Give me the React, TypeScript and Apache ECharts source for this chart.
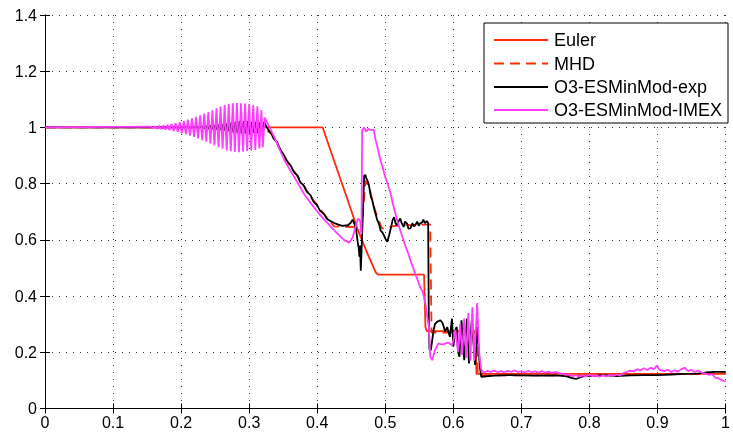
import React, { useEffect, useRef } from "react";
import * as echarts from "echarts";

const seriesNames = ["Euler", "MHD", "O3-ESMinMod-exp", "O3-ESMinMod-IMEX"];

const eulerData: number[][] = [
  [0, 1], [0.408, 1], [0.43, 0.845], [0.445, 0.74], [0.459, 0.64], [0.474, 0.55],
  [0.486, 0.484], [0.49, 0.476], [0.557, 0.476], [0.559, 0.29], [0.561, 0.275],
  [0.632, 0.275], [0.634, 0.123], [1, 0.123],
];

const mhdData: number[][] = [
  [0, 1], [0.322, 1], [0.333, 0.975], [0.352, 0.895], [0.372, 0.822], [0.391, 0.752],
  [0.411, 0.688], [0.42, 0.662], [0.425, 0.648], [0.462, 0.645], [0.465, 0.63],
  [0.468, 0.72], [0.471, 0.81], [0.476, 0.79], [0.485, 0.705], [0.495, 0.64],
  [0.503, 0.645], [0.52, 0.652], [0.566, 0.655], [0.568, 0.27], [0.634, 0.27],
  [0.636, 0.118], [0.8, 0.118], [1, 0.125],
];

const expData: number[][] = [
  [0, 1], [0.22, 1], [0.232, 1.003], [0.235, 0.997], [0.238, 1.005], [0.241, 0.995],
  [0.244, 1.006], [0.247, 0.994], [0.25, 1.008], [0.253, 0.992], [0.256, 1.01], [0.259, 0.99],
  [0.262, 1.012], [0.265, 0.988], [0.268, 1.015], [0.271, 0.985], [0.274, 1.018], [0.277, 0.982],
  [0.28, 1.02], [0.283, 0.98], [0.286, 1.022], [0.289, 0.978], [0.292, 1.022], [0.295, 0.978],
  [0.298, 1.022], [0.301, 0.978], [0.304, 1.02], [0.307, 0.98], [0.31, 1.02], [0.313, 0.98],
  [0.316, 1.018], [0.319, 0.985], [0.322, 1.02],
  [0.326, 1.0], [0.33, 0.985], [0.333, 0.978], [0.336, 0.96], [0.338, 0.955], [0.341, 0.948],
  [0.343, 0.935], [0.347, 0.915], [0.35, 0.906], [0.352, 0.898], [0.355, 0.882], [0.357, 0.875],
  [0.36, 0.868], [0.362, 0.86], [0.365, 0.845], [0.367, 0.838], [0.37, 0.832], [0.372, 0.825],
  [0.374, 0.81], [0.376, 0.802], [0.379, 0.797], [0.381, 0.79], [0.384, 0.774], [0.386, 0.768],
  [0.389, 0.762], [0.391, 0.755], [0.394, 0.738], [0.396, 0.732], [0.399, 0.726], [0.401, 0.718],
  [0.404, 0.704], [0.406, 0.7], [0.409, 0.694], [0.411, 0.688], [0.414, 0.676], [0.416, 0.672],
  [0.42, 0.666], [0.425, 0.66], [0.43, 0.655], [0.437, 0.65], [0.445, 0.652],
  [0.449, 0.66], [0.452, 0.672], [0.455, 0.655], [0.457, 0.64], [0.459, 0.6], [0.461, 0.57],
  [0.462, 0.54], [0.463, 0.58], [0.464, 0.49], [0.466, 0.62], [0.468, 0.76], [0.469, 0.829],
  [0.471, 0.83], [0.472, 0.82], [0.474, 0.81], [0.476, 0.794], [0.479, 0.752], [0.481, 0.74],
  [0.483, 0.717], [0.486, 0.69], [0.488, 0.672], [0.491, 0.655], [0.493, 0.634], [0.496, 0.626],
  [0.498, 0.616], [0.501, 0.6], [0.503, 0.593], [0.506, 0.62], [0.508, 0.64], [0.511, 0.672],
  [0.513, 0.681], [0.515, 0.66], [0.517, 0.652], [0.52, 0.668], [0.522, 0.676], [0.524, 0.66],
  [0.527, 0.646], [0.529, 0.665], [0.532, 0.658], [0.534, 0.64], [0.537, 0.641], [0.54, 0.66],
  [0.542, 0.648], [0.544, 0.652], [0.547, 0.665], [0.549, 0.65], [0.551, 0.658], [0.554, 0.662],
  [0.556, 0.672], [0.558, 0.66], [0.561, 0.667], [0.563, 0.66], [0.564, 0.3], [0.565, 0.21],
  [0.567, 0.208], [0.571, 0.279], [0.573, 0.3], [0.576, 0.308], [0.581, 0.314], [0.584, 0.305],
  [0.586, 0.29], [0.588, 0.273], [0.591, 0.29], [0.593, 0.27], [0.595, 0.255], [0.598, 0.32],
  [0.6, 0.22], [0.603, 0.28], [0.605, 0.29], [0.607, 0.2], [0.609, 0.184], [0.612, 0.314],
  [0.616, 0.172], [0.62, 0.32], [0.623, 0.16], [0.627, 0.314], [0.632, 0.155], [0.635, 0.29],
  [0.639, 0.148], [0.641, 0.113], [0.66, 0.117], [0.68, 0.119], [0.7, 0.118], [0.72, 0.117],
  [0.75, 0.118], [0.765, 0.115], [0.775, 0.108], [0.78, 0.105], [0.79, 0.114], [0.81, 0.117],
  [0.82, 0.119], [0.84, 0.115], [0.86, 0.118], [0.88, 0.119], [0.9, 0.119], [0.92, 0.121],
  [0.94, 0.123], [0.96, 0.124], [0.97, 0.128], [0.985, 0.13], [1, 0.13],
];

const imexData: number[][] = [
  [0, 1], [0.156, 1.003], [0.159, 0.997], [0.162, 1.004], [0.165, 0.995], [0.168, 1.006],
  [0.171, 0.994], [0.174, 1.007], [0.177, 0.992], [0.18, 1.009], [0.183, 0.99], [0.186, 1.012],
  [0.189, 0.987], [0.192, 1.015], [0.195, 0.984], [0.198, 1.019], [0.201, 0.98], [0.204, 1.023],
  [0.207, 0.976], [0.21, 1.028], [0.213, 0.971], [0.216, 1.032], [0.219, 0.966], [0.222, 1.038],
  [0.225, 0.961], [0.228, 1.043], [0.231, 0.955], [0.234, 1.049], [0.237, 0.949], [0.24, 1.055],
  [0.243, 0.943], [0.246, 1.061], [0.249, 0.937], [0.252, 1.068], [0.255, 0.93], [0.258, 1.074],
  [0.261, 0.924], [0.264, 1.08], [0.267, 0.918], [0.27, 1.084], [0.273, 0.915], [0.276, 1.086],
  [0.279, 0.913], [0.282, 1.087], [0.285, 0.912], [0.288, 1.086], [0.291, 0.914], [0.294, 1.085],
  [0.297, 0.916], [0.3, 1.083], [0.303, 0.918], [0.306, 1.08], [0.309, 0.921], [0.312, 1.075],
  [0.315, 0.925], [0.318, 1.062], [0.32, 0.93], [0.323, 1.035],
  [0.326, 1.02], [0.33, 1.0], [0.338, 0.96], [0.345, 0.92], [0.352, 0.883], [0.362, 0.84],
  [0.372, 0.8], [0.381, 0.762], [0.391, 0.729], [0.401, 0.698], [0.411, 0.67], [0.418, 0.652],
  [0.425, 0.634], [0.433, 0.614], [0.44, 0.598], [0.447, 0.59], [0.452, 0.608], [0.457, 0.652],
  [0.46, 0.676], [0.463, 0.668], [0.465, 0.62], [0.466, 0.99], [0.469, 1.0], [0.472, 0.985],
  [0.475, 0.995], [0.479, 0.99], [0.483, 0.992], [0.486, 0.954], [0.49, 0.915], [0.493, 0.883],
  [0.497, 0.85], [0.5, 0.823], [0.504, 0.795], [0.508, 0.764], [0.511, 0.73], [0.515, 0.693],
  [0.518, 0.665], [0.522, 0.634], [0.526, 0.605], [0.53, 0.575], [0.534, 0.55], [0.537, 0.527],
  [0.541, 0.5], [0.544, 0.48], [0.548, 0.455], [0.551, 0.433], [0.555, 0.415], [0.559, 0.374],
  [0.561, 0.338], [0.564, 0.29], [0.566, 0.184], [0.569, 0.172], [0.573, 0.208], [0.578, 0.232],
  [0.582, 0.228], [0.586, 0.229], [0.59, 0.233], [0.593, 0.234], [0.598, 0.225], [0.6, 0.24],
  [0.603, 0.28], [0.607, 0.2], [0.61, 0.3], [0.613, 0.19], [0.616, 0.32], [0.619, 0.18],
  [0.622, 0.34], [0.625, 0.17], [0.628, 0.36], [0.631, 0.17], [0.635, 0.375], [0.638, 0.2],
  [0.641, 0.137], [0.645, 0.128], [0.65, 0.134], [0.655, 0.13], [0.66, 0.135], [0.665, 0.129],
  [0.67, 0.133], [0.675, 0.128], [0.68, 0.134], [0.685, 0.13], [0.69, 0.136], [0.695, 0.129],
  [0.7, 0.133], [0.705, 0.128], [0.71, 0.134], [0.715, 0.129], [0.72, 0.132], [0.725, 0.127],
  [0.73, 0.133], [0.735, 0.128], [0.74, 0.131], [0.745, 0.127], [0.75, 0.13], [0.755, 0.126],
  [0.76, 0.124], [0.765, 0.12], [0.77, 0.122], [0.775, 0.115], [0.78, 0.119], [0.785, 0.113],
  [0.79, 0.118], [0.795, 0.114], [0.8, 0.12], [0.805, 0.115], [0.81, 0.118], [0.815, 0.113],
  [0.82, 0.119], [0.825, 0.114], [0.83, 0.12], [0.835, 0.116], [0.84, 0.121], [0.845, 0.117],
  [0.85, 0.126], [0.855, 0.13], [0.86, 0.135], [0.865, 0.132], [0.87, 0.14], [0.875, 0.135],
  [0.88, 0.143], [0.885, 0.137], [0.89, 0.145], [0.895, 0.14], [0.899, 0.152], [0.903, 0.138],
  [0.91, 0.133], [0.915, 0.138], [0.92, 0.13], [0.925, 0.136], [0.93, 0.131], [0.935, 0.14],
  [0.94, 0.145], [0.945, 0.133], [0.95, 0.138], [0.955, 0.13], [0.96, 0.135], [0.965, 0.127],
  [0.97, 0.125], [0.975, 0.12], [0.98, 0.122], [0.985, 0.11], [0.99, 0.107], [0.995, 0.1],
  [1, 0.096],
];

const RED = "#ff2a0a";
const MAGENTA = "#ff3cff";
const FONT = "Liberation Sans, Arial, Helvetica, sans-serif";
const seriesColors = [RED, RED, "#000000", MAGENTA];
const seriesDashes: any[] = [null, [10, 6], null, null];
const LW = 1.8;

export default function App() {
  const ref = useRef<HTMLDivElement>(null);
  useEffect(() => {
    if (!ref.current) return;
    const chart = echarts.init(ref.current, null, { renderer: "svg" });
    const grid = { left: 45, right: 3, top: 15, bottom: 25.5 };
    const dotted = { color: "#333", width: 1, type: [1, 6] as any };
    const axisLine = { show: true, lineStyle: { color: "#000", width: 1 } };
    const tick = { show: true, inside: true, length: 5, lineStyle: { color: "#000" } };
    const line = (i: number, data: number[][]) => ({
      name: seriesNames[i],
      type: "line",
      data,
      showSymbol: false,
      symbol: "none",
      lineStyle: { color: seriesColors[i], width: LW, type: seriesDashes[i] || "solid" },
      itemStyle: { color: seriesColors[i] },
      z: 2,
    });

    // legend box (drawn as graphic so the sample lines carry the real line styles)
    const boxLeft = 484, boxTop = 23, boxW = 244, boxH = 100;
    const rowY = [40, 63.5, 87, 110];
    const legendEls: any[] = [
      {
        type: "rect", x: boxLeft, y: boxTop, z: 20,
        shape: { x: 0, y: 0, width: boxW, height: boxH },
        style: { fill: "#fff", stroke: "#000", lineWidth: 1 },
      },
    ];
    seriesNames.forEach((name, i) => {
      legendEls.push({
        type: "line", z: 21,
        shape: { x1: 494, y1: rowY[i], x2: 548, y2: rowY[i] },
        style: { stroke: seriesColors[i], lineWidth: LW, lineDash: seriesDashes[i] || null },
      });
      legendEls.push({
        type: "text", z: 21, x: 554, y: rowY[i],
        style: {
          text: name, fill: "#000", fontSize: 18, fontFamily: FONT,
          align: "left", verticalAlign: "middle",
        },
      });
    });

    chart.setOption({
      animation: false,
      grid,
      xAxis: [
        {
          type: "value", min: 0, max: 1, interval: 0.1, position: "bottom",
          axisLine, axisTick: tick,
          axisLabel: { color: "#000", fontSize: 16, fontFamily: FONT, margin: 6 },
          splitLine: { show: true, lineStyle: dotted },
        },
        {
          type: "value", min: 0, max: 1, interval: 0.1, position: "top",
          axisLine, axisTick: tick, axisLabel: { show: false }, splitLine: { show: false },
        },
      ],
      yAxis: [
        {
          type: "value", min: 0, max: 1.4, interval: 0.2, position: "left",
          axisLine, axisTick: tick,
          axisLabel: { color: "#000", fontSize: 16, fontFamily: FONT, margin: 8 },
          splitLine: { show: true, lineStyle: dotted },
        },
        {
          type: "value", min: 0, max: 1.4, interval: 0.2, position: "right",
          axisLine, axisTick: tick, axisLabel: { show: false }, splitLine: { show: false },
        },
      ],
      graphic: legendEls,
      series: [
        line(0, eulerData),
        line(1, mhdData),
        line(2, expData),
        line(3, imexData),
      ],
    });
    return () => chart.dispose();
  }, []);
  return <div ref={ref} style={{ position: "fixed", left: 0, top: 0, width: 733, height: 434 }} />;
}
